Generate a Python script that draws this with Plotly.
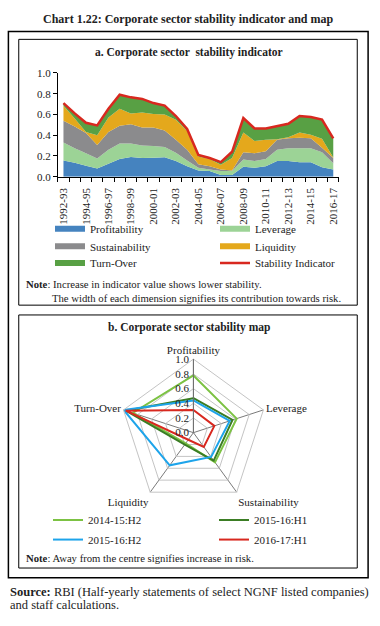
import plotly.graph_objects as go

W, H = 380, 626
FONT = "Liberation Serif"
TXT = "#222222"

# ---------------- data: chart a ----------------
years = ["1992-93", "1993-94", "1994-95", "1995-96", "1996-97", "1997-98", "1998-99",
         "1999-00", "2000-01", "2001-02", "2002-03", "2003-04", "2004-05", "2005-06",
         "2006-07", "2007-08", "2008-09", "2009-10", "2010-11", "2011-12", "2012-13",
         "2013-14", "2014-15", "2015-16", "2016-17"]
profitability = [0.155, 0.135, 0.105, 0.078, 0.125, 0.17, 0.19, 0.18, 0.183, 0.188, 0.15, 0.10, 0.06,
                 0.055, 0.015, 0.015, 0.095, 0.085, 0.10, 0.15, 0.15, 0.14, 0.14, 0.09, 0.07]
leverage = [0.175, 0.14, 0.12, 0.097, 0.135, 0.15, 0.13, 0.12, 0.112, 0.097, 0.08, 0.055, 0.025,
            0.015, 0.04, 0.04, 0.07, 0.065, 0.07, 0.11, 0.125, 0.135, 0.135, 0.145, 0.06]
sustainability = [0.21, 0.21, 0.195, 0.13, 0.17, 0.17, 0.185, 0.175, 0.18, 0.16, 0.125, 0.105, 0.035,
                  0.03, 0.015, 0.005, 0.07, 0.075, 0.075, 0.095, 0.095, 0.10, 0.095, 0.045, 0.05]
liquidity = [0.145, 0.075, 0.01, 0.095, 0.14, 0.165, 0.105, 0.145, 0.13, 0.155, 0.195, 0.18, 0.075,
             0.07, 0.045, 0.12, 0.19, 0.12, 0.11, 0.005, 0.01, 0.05, 0.035, 0.085, 0.005]
turnover = [0.025, 0.05, 0.09, 0.095, 0.085, 0.135, 0.155, 0.13, 0.105, 0.085, 0.035, 0.02, 0.015,
            0.01, 0.025, 0.06, 0.14, 0.12, 0.11, 0.125, 0.13, 0.16, 0.17, 0.185, 0.185]
stability = [0.71, 0.61, 0.52, 0.495, 0.655, 0.79, 0.765, 0.75, 0.71, 0.685, 0.585, 0.46, 0.21,
             0.18, 0.14, 0.24, 0.565, 0.465, 0.465, 0.485, 0.51, 0.585, 0.575, 0.55, 0.37]

# ---------------- data: chart b ----------------
radar_axes = ["Profitability", "Leverage", "Sustainability", "Liquidity", "Turn-Over"]
periods = ["2014-15:H2", "2015-16:H1", "2015-16:H2", "2016-17:H1"]
r_2014_15_h2 = [0.78, 0.62, 0.50, 0.18, 0.87]
r_2015_16_h1 = [0.47, 0.56, 0.47, 0.20, 0.97]
r_2015_16_h2 = [0.44, 0.52, 0.41, 0.55, 1.00]
r_2016_17_h1 = [0.31, 0.30, 0.24, 0.12, 0.97]
radar_values = [r_2014_15_h2, r_2015_16_h1, r_2015_16_h2, r_2016_17_h1]
radar_ticks = [0.0, 0.2, 0.4, 0.6, 0.8, 1.0]


def px(x):
    return x / W


def py(y):
    return 1 - y / H


idx = list(range(len(years)))

fig = go.Figure()

area_series = [
    ("Profitability", profitability, "#4583bf", "legend"),
    ("Leverage", leverage, "#9cd396", "legend"),
    ("Sustainability", sustainability, "#8b8b8d", "legend2"),
    ("Liquidity", liquidity, "#e4a81c", "legend2"),
    ("Turn-Over", turnover, "#58a044", "legend3"),
]
for name, vals, col, lg in area_series:
    fig.add_trace(go.Scatter(x=idx, y=vals, name=name, stackgroup="one", mode="none",
                             fillcolor=col, legend=lg, hoverinfo="skip"))
fig.add_trace(go.Scatter(x=idx, y=stability, name="Stability Indicator", mode="lines",
                         line=dict(color="#d8281f", width=2.5), legend="legend3"))

radar_colors = ["#7cc243", "#3b7d24", "#1ea4ea", "#d8281f"]
radar_legends = ["legend4", "legend4", "legend5", "legend5"]
for name, vals, col, lg in zip(periods, radar_values, radar_colors, radar_legends):
    fig.add_trace(go.Scatterpolar(r=vals + vals[:1], theta=radar_axes + radar_axes[:1],
                                  name=name, mode="lines", line=dict(color=col, width=2),
                                  legend=lg, subplot="polar"))

tickfont = dict(family=FONT, size=11, color=TXT)

fig.update_layout(
    width=W, height=H, margin=dict(l=0, r=0, t=0, b=0),
    paper_bgcolor="white", plot_bgcolor="white",
    font=dict(family=FONT, size=11, color=TXT),
    showlegend=True,
    xaxis=dict(domain=[px(57.6), px(342.4)], range=[-0.5, len(years) - 0.5],
               tickmode="array", tickvals=idx[::2], ticktext=years[::2], tickangle=-90,
               ticks="", ticklabelstandoff=6, showline=True, linecolor="black", linewidth=1,
               showgrid=False, zeroline=False, tickfont=tickfont,
               minor=dict(ticks="outside", tick0=-0.5, dtick=1, ticklen=4,
                          tickcolor="black", showgrid=False)),
    yaxis=dict(domain=[py(174), py(68.3)], range=[0, 1.0], dtick=0.2, tickformat=".1f",
               ticks="outside", ticklen=4, tickcolor="black", showline=True,
               linecolor="black", linewidth=1, showgrid=False, zeroline=False,
               tickfont=tickfont),
    polar=dict(
        domain=dict(x=[px(120), px(270)], y=[py(510), py(360)]),
        gridshape="linear", bgcolor="rgba(0,0,0,0)",
        radialaxis=dict(range=[0, 1.003], tickmode="array", tickvals=radar_ticks,
                        tickformat=".1f", angle=90,
                        side="counterclockwise", showline=True, linecolor="#6f6f6f",
                        linewidth=1, gridcolor="#c4c4c4", ticks="", tickfont=tickfont,
                        tickangle=90),
        angularaxis=dict(rotation=90, direction="clockwise", showline=True,
                         linecolor="#c4c4c4", gridcolor="#7a7a7a", ticks="",
                         tickfont=tickfont),
    ),
)

leg_common = dict(orientation="h", xanchor="left", yanchor="middle",
                  entrywidthmode="pixels", bgcolor="rgba(0,0,0,0)", borderwidth=0,
                  traceorder="normal",
                  font=dict(family=FONT, size=11, color=TXT), itemclick=False,
                  itemdoubleclick=False)
fig.update_layout(
    legend=dict(x=px(58), y=py(227), entrywidth=120, **leg_common),
    legend2=dict(x=px(58), y=py(245), entrywidth=120, **leg_common),
    legend3=dict(x=px(58), y=py(262), entrywidth=120, **leg_common),
    legend4=dict(x=px(64), y=py(524), entrywidth=121, **leg_common),
    legend5=dict(x=px(64), y=py(544), entrywidth=121, **leg_common),
)

# boxes
fig.add_shape(type="rect", xref="paper", yref="paper", x0=px(7.5), x1=px(372),
              y0=py(583), y1=py(26), line=dict(color="black", width=1.5))
for top, bot in [(34, 305), (315, 573)]:
    fig.add_shape(type="rect", xref="paper", yref="paper", x0=px(18), x1=px(361),
                  y0=py(bot), y1=py(top), line=dict(color="black", width=1))


def note(text, x, y, size=10.5, anchor="left", bold=False):
    if bold:
        text = "<b>" + text + "</b>"
    fig.add_annotation(text=text, x=px(x), y=py(y), xref="paper", yref="paper",
                       xanchor=anchor, yanchor="middle", showarrow=False,
                       font=dict(family=FONT, size=size, color=TXT))


note("Chart 1.22: Corporate sector stability indicator and map", 190, 13, size=12,
     anchor="center", bold=True)
note("a. Corporate sector  stability indicator", 190, 47, size=11.5, anchor="center", bold=True)
note("b. Corporate sector stability map", 190, 328, size=11.5, anchor="center", bold=True)
note("<b>Note</b>: Increase in indicator value shows lower stability.", 23, 283, size=10.7)
note("The width of each dimension signifies its contribution towards risk.", 50, 298, size=10.7)
note("<b>Note</b>: Away from the centre signifies increase in risk.", 23, 563, size=10.7)
note("<b>Source:</b> RBI (Half-yearly statements of select NGNF listed companies)", 7, 597,
     size=12.5)
note("and staff calculations.", 7, 611, size=12.5)

fig.write_html("out.html", config={"displayModeBar": False},
               post_script="document.body.style.margin='0';document.body.style.padding='0';")
